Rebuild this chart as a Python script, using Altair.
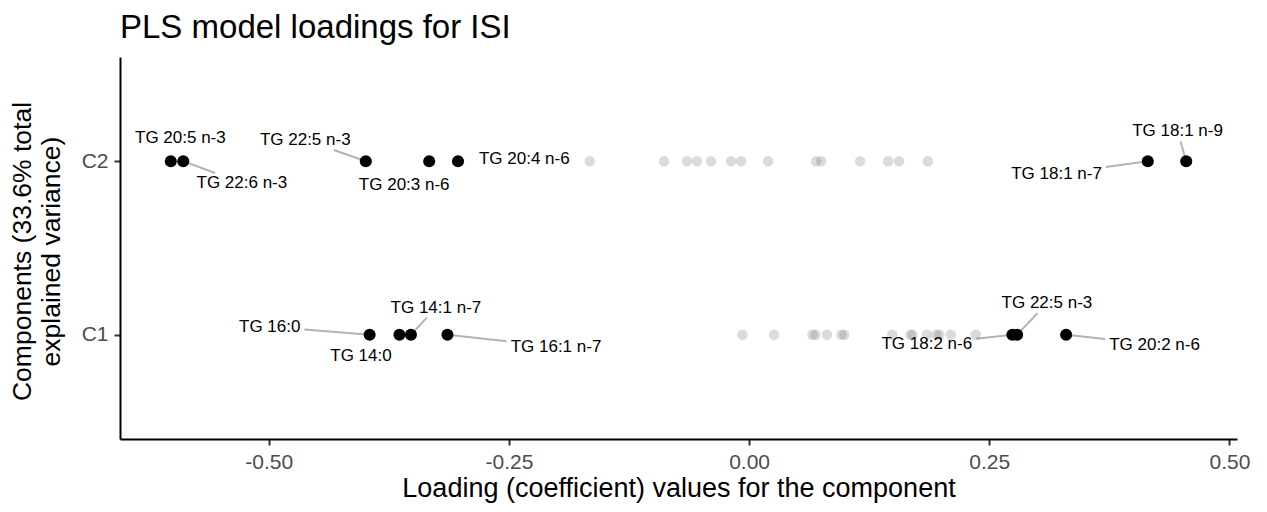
import altair as alt
import pandas as pd

# ---- data ----
# highlighted loadings (labelled)
hl_name = ["TG 20:5 n-3", "TG 22:6 n-3", "TG 22:5 n-3", "TG 20:3 n-6", "TG 20:4 n-6",
           "TG 18:1 n-7", "TG 18:1 n-9",
           "TG 16:0", "TG 14:0", "TG 14:1 n-7", "TG 16:1 n-7", "TG 18:2 n-6",
           "TG 22:5 n-3", "TG 20:2 n-6"]
hl_comp = ["C2"] * 7 + ["C1"] * 7
hl_loading = [-0.602, -0.589, -0.399, -0.333, -0.303, 0.415, 0.455,
              -0.395, -0.364, -0.352, -0.314, 0.274, 0.279, 0.330]
# repelled label positions (loading units, component units)
lab_x = [-0.592, -0.528, -0.462, -0.359, -0.234, 0.320, 0.446,
         -0.499, -0.404, -0.326, -0.201, 0.185, 0.310, 0.422]
lab_y = [2.131, 1.874, 2.122, 1.863, 2.013, 1.926, 2.171,
         1.047, 0.878, 1.157, 0.931, 0.947, 1.183, 0.944]
lab_line = [False, True, True, False, False, True, True,
            True, False, True, True, True, True, True]

# remaining (non-highlighted) loadings
c2_other = [-0.166, -0.0885, -0.0646, -0.0542, -0.0396, -0.0188, -0.0083, 0.0198,
            0.0698, 0.075, 0.1156, 0.1448, 0.156, 0.186]
c1_other = [-0.007, 0.026, 0.066, 0.069, 0.081, 0.096, 0.099, 0.149, 0.168, 0.170,
            0.185, 0.195, 0.198, 0.210, 0.236]

comp_num = {"C1": 1, "C2": 2}

W, H = 1117, 382
FS = 17
FONT = "Liberation Sans"

all_vals = hl_loading + c1_other + c2_other
rng = max(all_vals) - min(all_vals)
x_lo = min(all_vals) - 0.05 * rng
x_hi = max(all_vals) + 0.05 * rng
y_lo, y_hi = 0.4, 2.6

hl = pd.DataFrame({
    "name": hl_name,
    "comp": hl_comp,
    "loading": hl_loading,
    "y": [comp_num[c] for c in hl_comp],
    "lx": lab_x,
    "ly": lab_y,
    "line": lab_line,
})
other = pd.DataFrame({
    "comp": ["C2"] * len(c2_other) + ["C1"] * len(c1_other),
    "loading": c2_other + c1_other,
})
other["y"] = other["comp"].map(comp_num)

# connector segments: from label box edge to the point
cw = {"T": 0.611, "G": 0.778, " ": 0.278, ":": 0.278, "n": 0.556, "-": 0.333}
def text_w(s):
    return sum(cw.get(c, 0.556) for c in s) * FS

kx = W / (x_hi - x_lo)
ky = H / (y_hi - y_lo)
seg_rows = []
for _, r in hl.iterrows():
    if not r["line"]:
        continue
    dxp = (r["loading"] - r["lx"]) * kx
    dyp = (r["y"] - r["ly"]) * ky
    hw = text_w(r["name"]) / 2 + 4
    hh = 10
    s = min(hw / abs(dxp) if dxp else 1e9, hh / abs(dyp) if dyp else 1e9)
    seg_rows.append({
        "ex": r["lx"] + s * (r["loading"] - r["lx"]),
        "ey": r["ly"] + s * (r["y"] - r["ly"]),
        "loading": r["loading"],
        "y": r["y"],
    })
seg = pd.DataFrame(seg_rows)

xscale = alt.Scale(domain=[x_lo, x_hi], nice=False, zero=False)
yscale = alt.Scale(domain=[y_lo, y_hi], nice=False, zero=False)

xaxis = alt.Axis(values=[-0.5, -0.25, 0, 0.25, 0.5],
                 labelExpr="replace(format(datum.value, '.2f'), '\u2212', '-')",
                 title="Loading (coefficient) values for the component",
                 labelPadding=6, titlePadding=3, titleFontSize=27)
yaxis = alt.Axis(values=[1, 2],
                 labelExpr="datum.value == 1 ? 'C1' : 'C2'",
                 title=["Components (33.6% total", "explained variance)"],
                 labelPadding=6,
                 titleAngle=-90, titleX=-90, titleY=194,
                 titleBaseline="alphabetic", titleAlign="center",
                 titleLineHeight=29)

def X(field):
    return alt.X(f"{field}:Q", scale=xscale, axis=xaxis)

def Y(field):
    return alt.Y(f"{field}:Q", scale=yscale, axis=yaxis)

segments = alt.Chart(seg).mark_rule(color="#b3b3b3", strokeWidth=2).encode(
    x=X("ex"), y=Y("ey"), x2="loading:Q", y2="y:Q"
)
others = alt.Chart(other).mark_circle(size=110, color="#7f7f7f", opacity=0.28).encode(
    x=X("loading"), y=Y("y")
)
points = alt.Chart(hl).mark_circle(size=145, color="black", opacity=1).encode(
    x=X("loading"), y=Y("y")
)
labels = alt.Chart(hl).mark_text(fontSize=FS, font=FONT, color="black",
                                 align="center", baseline="middle").encode(
    x=X("lx"), y=Y("ly"), text="name:N"
)

chart = alt.layer(segments, others, points, labels).properties(
    width=W, height=H,
    autosize=alt.AutoSizeParams(type="none"),
    padding={"left": 112, "top": 49, "right": 22, "bottom": 65},
    title=alt.TitleParams("PLS model loadings for ISI", anchor="start", fontSize=33,
                          font=FONT, fontWeight="normal", color="black",
                          offset=12, frame="group"),
).configure_view(stroke=None).configure_axis(
    grid=False, domainColor="black", domainWidth=2, tickColor="#333333",
    tickWidth=2, tickSize=6, labelFontSize=21, labelColor="#4d4d4d", labelFont=FONT,
    titleFontSize=26.5, titleColor="black", titleFontWeight="normal", titleFont=FONT,
)

chart.save("out.html", embed_options={"renderer": "svg", "actions": False})
